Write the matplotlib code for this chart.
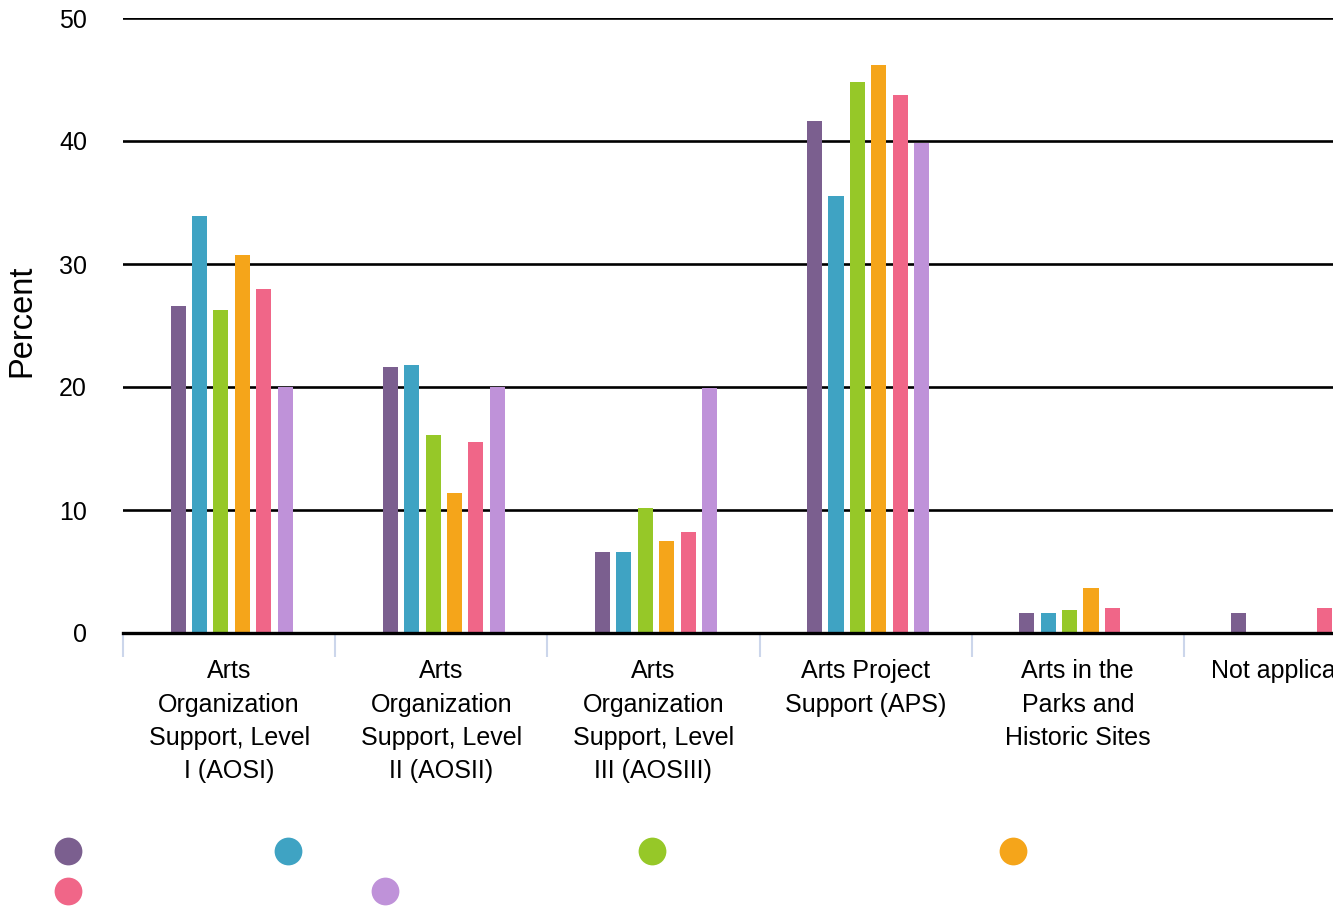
import matplotlib.pyplot as plt
from matplotlib.lines import Line2D
import numpy as np

plt.rcParams['font.family'] = ['Liberation Sans', 'DejaVu Sans']

categories = [
    'Arts\nOrganization\nSupport, Level\nI (AOSI)',
    'Arts\nOrganization\nSupport, Level\nII (AOSII)',
    'Arts\nOrganization\nSupport, Level\nIII (AOSIII)',
    'Arts Project\nSupport (APS)',
    'Arts in the\nParks and\nHistoric Sites',
    'Not applicable',
]

# one list per series (legend labels are blank in the original)
s1 = [26.6, 21.6, 6.6, 41.6, 1.6, 1.6]
s2 = [33.9, 21.8, 6.6, 35.5, 1.6, 0]
s3 = [26.3, 16.1, 10.2, 44.8, 1.85, 0]
s4 = [30.7, 11.4, 7.5, 46.2, 3.65, 0]
s5 = [28.0, 15.5, 8.2, 43.7, 2.0, 2.0]
s6 = [20.0, 20.0, 19.9, 39.8, 0, 0]
series = [s1, s2, s3, s4, s5, s6]
colors = ['#7b5f8f', '#3fa3c3', '#96c828', '#f5a51a', '#f06688', '#bf92d9']

fig = plt.figure(figsize=(13.33, 9.09), dpi=100)
W, H = 1333, 909
ax = fig.add_axes([123 / W, 1 - 633 / H, (1396 - 123) / W, (633 - 18) / H])

x = np.arange(len(categories))
bw = 0.071
step = 0.101
for i, (vals, c) in enumerate(zip(series, colors)):
    ax.bar(x + (i - 2.5) * step + 0.012, vals, width=bw, color=c, zorder=3)

ax.set_xlim(-0.5, len(categories) - 0.5)
ax.set_ylim(0, 50)
ax.set_yticks([0, 10, 20, 30, 40, 50])
ax.grid(axis='y', color='black', linewidth=1.9, zorder=1)
for sp in ['top', 'right', 'left']:
    ax.spines[sp].set_visible(False)
ax.spines['bottom'].set_color('black')
ax.spines['bottom'].set_linewidth(2.4)
ax.spines['bottom'].set_zorder(5)

ax.set_xticks(x)
ax.set_xticklabels(categories, fontsize=18, linespacing=1.48, va='top')
ax.tick_params(axis='x', which='major', length=0, pad=19, colors='black')
ax.set_xticks(np.arange(len(categories) + 1) - 0.5, minor=True)
ax.tick_params(axis='x', which='minor', length=17, width=1.5, color='#ccd6eb', direction='out')
ax.tick_params(axis='y', length=0, pad=26, labelsize=18)

fig.text(22 / W, 1 - 321 / H, 'Percent', rotation=90, fontsize=23.5,
         ha='center', va='center')

# legend markers (no labels)
leg_xy = [(68, 851), (288, 851), (652, 851), (1013, 851), (68, 891), (385, 891)]
for (px, py), c in zip(leg_xy, colors):
    fig.add_artist(Line2D([px / W], [1 - py / H], marker='o', markersize=20,
                          color=c, markeredgewidth=0, transform=fig.transFigure))

fig.savefig('out.png', dpi=100)
